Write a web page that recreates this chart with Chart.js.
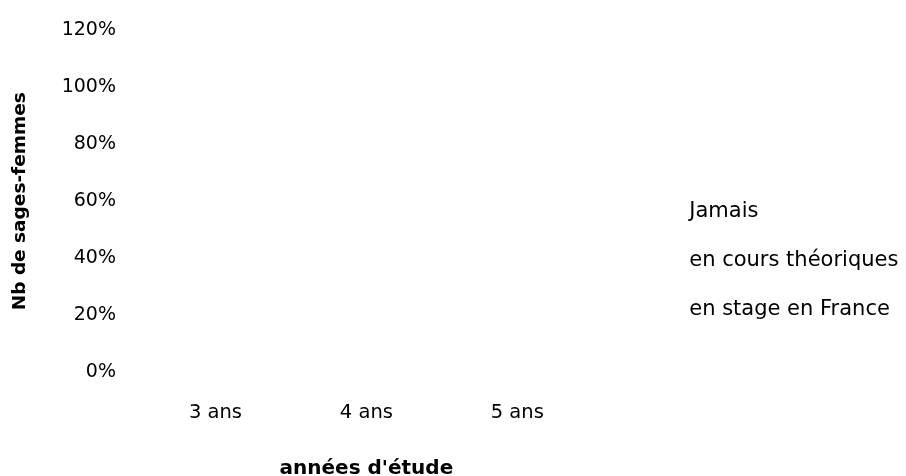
<!DOCTYPE html>
<html>
<head>
<meta charset="utf-8">
<script src="https://cdn.jsdelivr.net/npm/chart.js@4/dist/chart.umd.min.js"></script>
<style>
  html, body { margin: 0; padding: 0; background: #ffffff; }
  #wrap { width: 906px; height: 476px; position: relative; }
</style>
</head>
<body>
<div id="wrap"><canvas id="c"></canvas></div>
<script>
// Years of study on the x axis
const categories = ['3 ans', '4 ans', '5 ans'];

// Series names (legend) — the bars carry no visible fill
const seriesNames = ['Jamais', 'en cours théoriques', 'en stage en France'];
const seriesJamais = [null, null, null];
const seriesCours = [null, null, null];
const seriesStage = [null, null, null];

// Percentage ticks on the y axis
const yTicks = [0, 20, 40, 60, 80, 100, 120];

const FONT = '"DejaVu Sans", sans-serif';

const datasets = [seriesJamais, seriesCours, seriesStage].map((d, i) => ({
  label: seriesNames[i],
  data: d,
  backgroundColor: 'rgba(255,255,255,0)',
  borderWidth: 0
}));

// Moves the legend block right/down inside the margin and widens its box
// so the longest label is not cut off
const legendOffset = {
  id: 'legendOffset',
  afterLayout(chart) {
    const lg = chart.legend;
    if (!lg) return;
    const dx = 58, dy = 6, extra = 120;
    lg.left += dx; lg.right += dx + extra; lg.width += extra;
    lg.top += dy; lg.bottom += dy;
  }
};

new Chart(document.getElementById('c'), {
  type: 'bar',
  data: { labels: categories, datasets },
  plugins: [legendOffset],
  options: {
    responsive: true,
    maintainAspectRatio: false,
    animation: false,
    layout: { padding: { top: 30, right: 117, bottom: -3, left: 4 } },
    plugins: {
      tooltip: { enabled: false },
      legend: {
        position: 'right',
        align: 'center',
        labels: {
          boxWidth: 0,
          boxHeight: 0,
          padding: 28,
          color: '#000',
          font: { family: FONT, size: 21 }
        }
      }
    },
    scales: {
      x: {
        stacked: true,
        grid: { display: false, drawTicks: false },
        border: { display: false },
        ticks: { color: '#000', padding: 31, font: { family: FONT, size: 19.5, lineHeight: 1 } },
        title: {
          display: true,
          text: "années d'étude",
          color: '#000',
          padding: { top: 5, bottom: 0 },
          font: { family: FONT, size: 20, weight: 'bold', lineHeight: 1 }
        }
      },
      y: {
        stacked: true,
        min: 0,
        max: 120,
        afterBuildTicks: (axis) => { axis.ticks = yTicks.map(v => ({ value: v })); },
        afterFit: (axis) => { axis.width = 136; axis.paddingTop = 0; },
        grid: { display: false, drawTicks: false },
        border: { display: false },
        ticks: {
          color: '#000',
          padding: 24,
          font: { family: FONT, size: 19 },
          callback: (v) => v + '%'
        },
        title: {
          display: true,
          text: 'Nb de sages-femmes',
          color: '#000',
          padding: { top: 5, bottom: 0 },
          font: { family: FONT, size: 18.5, weight: 'bold' }
        }
      }
    }
  }
});
</script>
</body>
</html>
